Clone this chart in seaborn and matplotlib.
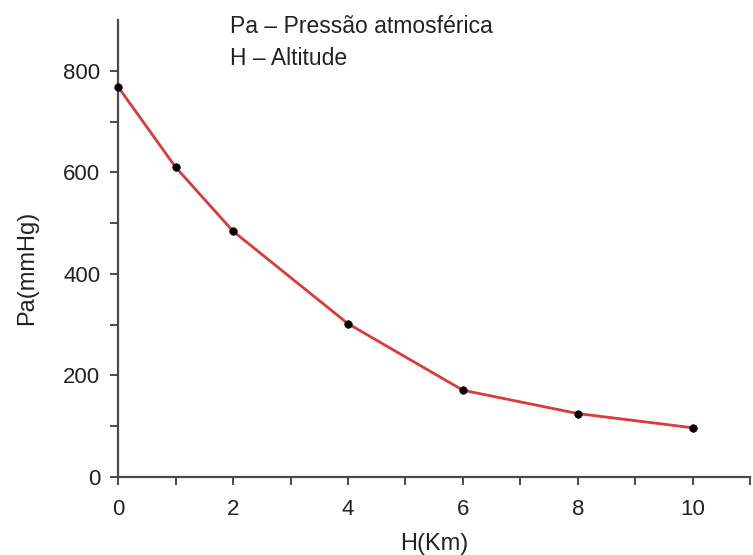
import numpy as np
import pandas as pd
import seaborn as sns
import matplotlib.pyplot as plt
from matplotlib.ticker import FixedLocator

# altitude (km) vs atmospheric pressure (mmHg)
altitude = [0, 1, 2, 4, 6, 8, 10]
pressure = [768, 610, 484, 302, 171, 125, 97]
legend_lines = ["Pa – Pressão atmosférica", "H – Altitude"]

df = pd.DataFrame({"H": altitude, "Pa": pressure})

sns.set_style("ticks")
plt.rcParams['font.family'] = ['Liberation Sans', 'DejaVu Sans']

fig = plt.figure(figsize=(7.53, 5.55), dpi=100)
ax = fig.add_axes([0.157, 0.1405, 0.839, 0.8235])

sns.lineplot(data=df, x="H", y="Pa", color="#d93a3a", linewidth=2, ax=ax)
sns.scatterplot(data=df, x="H", y="Pa", color="black", s=30, edgecolor="black",
                zorder=3, ax=ax, clip_on=False)

ax.set_xlim(0, 11)
ax.set_ylim(0, 900)
ax.xaxis.set_major_locator(FixedLocator([0, 2, 4, 6, 8, 10]))
ax.xaxis.set_minor_locator(FixedLocator([1, 3, 5, 7, 9, 11]))
ax.yaxis.set_major_locator(FixedLocator([0, 200, 400, 600, 800]))
ax.yaxis.set_minor_locator(FixedLocator([100, 300, 500, 700]))

sns.despine(ax=ax)
for s in ["left", "bottom"]:
    ax.spines[s].set_color("#4a4a4a")
    ax.spines[s].set_linewidth(1.6)
ax.tick_params(which="both", direction="out", length=6, width=1.4, color="#4a4a4a",
               labelsize=16, labelcolor="#222222")
ax.tick_params(axis="x", which="both", pad=10)
ax.tick_params(axis="y", which="both", pad=7)

ax.set_xlabel("H(Km)", fontsize=17, color="#222222")
ax.set_ylabel("Pa(mmHg)", fontsize=17, color="#222222")
ax.xaxis.set_label_coords(0.5, -0.122)
ax.yaxis.set_label_coords(-0.127, 0.458)

ax.text(0.177, 0.9716, legend_lines[0], transform=ax.transAxes, fontsize=16.5,
        color="#222222", va="baseline", ha="left")
ax.text(0.177, 0.9015, legend_lines[1], transform=ax.transAxes, fontsize=16.5,
        color="#222222", va="baseline", ha="left")

fig.savefig("out.png", dpi=100)
